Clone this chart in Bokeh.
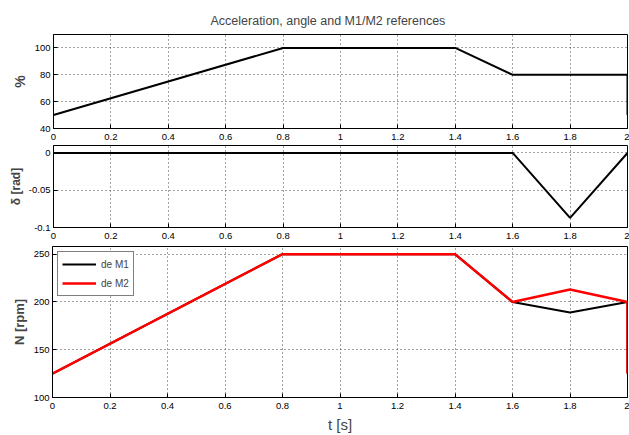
from bokeh.plotting import figure
from bokeh.layouts import column, row
from bokeh.models import FixedTicker, Legend, LegendItem, Range1d, Spacer
from bokeh.embed import file_html
from bokeh.resources import INLINE

# ---- data ----
t_acc = [0.0, 0.8, 1.4, 1.6, 2.0, 2.0]
acc = [50, 100, 100, 80, 80, 50]

t_delta = [0.0, 1.6, 1.8, 2.0]
delta = [0.0, 0.0, -0.087, 0.0]

t_speed = [0.0, 0.8, 1.4, 1.6, 1.8, 2.0, 2.0]
n_m1 = [125, 250, 250, 200, 189, 200, 125]
n_m2 = [125, 250, 250, 200, 213, 200, 125]

x_ticks = [0.0, 0.2, 0.4, 0.6, 0.8, 1.0, 1.2, 1.4, 1.6, 1.8, 2.0]
x_tick_labels = ["0", "0.2", "0.4", "0.6", "0.8", "1", "1.2", "1.4", "1.6", "1.8", "2"]
acc_ticks = [40, 60, 80, 100]
delta_ticks = [-0.1, -0.05, 0.0]
delta_tick_labels = ["-0.1", "-0.05", "0"]
speed_ticks = [100, 150, 200, 250]

title_text = "Acceleration, angle and M1/M2 references"
FONT = "Liberation Sans"
TICK_SIZE = "9.5px"


def style(p, yticks, ylabels, ylab, ylab_size, ylab_standoff, xlab=None):
    p.outline_line_color = "black"
    p.outline_line_width = 1
    p.background_fill_color = "white"
    p.border_fill_color = "white"
    xa = p.xaxis[0]
    ya = p.yaxis[0]
    xa.ticker = FixedTicker(ticks=x_ticks)
    xa.major_label_overrides = {k: v for k, v in zip(x_ticks, x_tick_labels)}
    ya.ticker = FixedTicker(ticks=yticks)
    if ylabels is not None:
        ya.major_label_overrides = {k: v for k, v in zip(yticks, ylabels)}
    for ax in (xa, ya):
        ax.major_tick_out = 0
        ax.major_tick_in = 4
        ax.minor_tick_out = 0
        ax.minor_tick_in = 0
        ax.axis_line_color = "black"
        ax.major_tick_line_color = "black"
        ax.major_label_text_font = FONT
        ax.major_label_text_font_size = TICK_SIZE
        ax.major_label_text_color = "black"
    xa.major_label_standoff = 5
    ya.major_label_standoff = 3
    ya.axis_label = ylab
    ya.axis_label_text_font = FONT
    ya.axis_label_text_font_style = "bold"
    ya.axis_label_text_font_size = ylab_size
    ya.axis_label_standoff = ylab_standoff
    if xlab:
        xa.axis_label = xlab
        xa.axis_label_text_font = FONT
        xa.axis_label_text_font_style = "normal"
        xa.axis_label_text_font_size = "15px"
        xa.axis_label_standoff = 4
    for g in (p.xgrid[0], p.ygrid[0]):
        g.grid_line_color = "#444444"
        g.grid_line_dash = "1 3"
        g.grid_line_width = 1
    p.xgrid[0].ticker = FixedTicker(ticks=x_ticks)
    p.ygrid[0].ticker = FixedTicker(ticks=yticks)


W = 629
common = dict(output_backend="svg", toolbar_location=None, min_border_right=2)

pad1 = 8
p1 = figure(width=W - pad1, height=144, x_range=Range1d(0, 2), y_range=Range1d(40, 110),
            min_border_left=52 - pad1, min_border_top=34, min_border_bottom=16, **common)
p1.title.text = title_text
p1.title.text_font = FONT
p1.title.text_font_size = "12.5px"
p1.title.text_font_style = "normal"
p1.title.align = "left"
p1.title.offset = 159 - pad1 + 6
p1.title.standoff = 14
p1.line(t_acc, acc, line_color="black", line_width=2)
style(p1, acc_ticks, None, "%", "14px", 4)

pad2 = 5
p2 = figure(width=W - pad2, height=101, x_range=p1.x_range, y_range=Range1d(-0.1, 0.01),
            min_border_left=52 - pad2, min_border_top=1, min_border_bottom=18, **common)
p2.line(t_delta, delta, line_color="black", line_width=2)
style(p2, delta_ticks, delta_tick_labels, "δ [rad]", "12px", 3)

pad3 = 7
p3 = figure(width=W - pad3, height=190, x_range=p1.x_range, y_range=Range1d(100, 258),
            min_border_left=52 - pad3, min_border_top=1, min_border_bottom=38, **common)
r1 = p3.line(t_speed, n_m1, line_color="black", line_width=2)
r2 = p3.line(t_speed, n_m2, line_color="#ff0000", line_width=2.5)
style(p3, speed_ticks, None, "N [rpm]", "13px", 4, xlab="t [s]")

leg = Legend(items=[LegendItem(label="de M1", renderers=[r1]),
                    LegendItem(label="de M2", renderers=[r2])],
             location="top_left", margin=5, padding=4, spacing=3,
             glyph_width=34, glyph_height=16, label_height=16, label_standoff=5,
             label_text_font=FONT, label_text_font_size="10px",
             border_line_color="black", border_line_width=1,
             background_fill_alpha=1.0)
p3.add_layout(leg, "center")

layout = column(row(Spacer(width=pad1, height=144), p1, spacing=0),
                row(Spacer(width=pad2, height=101), p2, spacing=0),
                row(Spacer(width=pad3, height=190), p3, spacing=0),
                spacing=0)
open("out.html", "w").write(file_html(layout, INLINE))
